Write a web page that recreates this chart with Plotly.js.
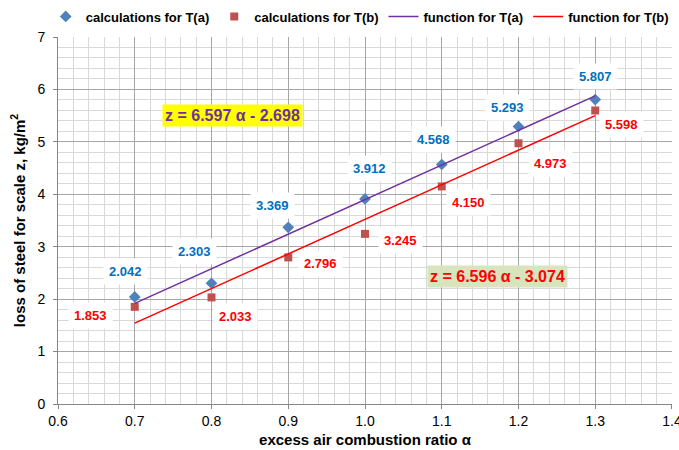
<!DOCTYPE html>
<html>
<head>
<meta charset="utf-8">
<script src="https://cdn.plot.ly/plotly-3.0.1.min.js"></script>
<style>html,body{margin:0;padding:0;background:#fff;}#chart{width:679px;height:450px;}</style>
</head>
<body>
<div id="chart"></div>
<script>
// Data
var alpha = [0.7, 0.8, 0.9, 1.0, 1.1, 1.2, 1.3];
var calcA = [2.042, 2.303, 3.369, 3.912, 4.568, 5.293, 5.807];
var calcB = [1.853, 2.033, 2.796, 3.245, 4.150, 4.973, 5.598];
var fitX = [0.7, 1.3];
var fitA = [1.920, 5.878];   // z = 6.597 α - 2.698
var fitB = [1.543, 5.501];   // z = 6.596 α - 3.074
var xTicks = [0.6, 0.7, 0.8, 0.9, 1.0, 1.1, 1.2, 1.3, 1.4];
var xTickText = ["0.6", "0.7", "0.8", "0.9", "1.0", "1.1", "1.2", "1.3", "1.4"];
var labelsA = ["2.042", "2.303", "3.369", "3.912", "4.568", "5.293", "5.807"];
var labelsB = ["1.853", "2.033", "2.796", "3.245", "4.150", "4.973", "5.598"];
var eqA = "z = 6.597 α - 2.698";
var eqB = "z = 6.596 α - 3.074";

// label pixel offsets (placement)
var offA = [[-9,25],[-17,32],[-16,22],[4,30],[-8,25],[-11,19],[0,23]];
var offB = [[-44,-9],[24,-19],[32,-6],[35,-7],[27,-16],[32,-20],[26,-14]];

var FONT = "Liberation Sans, Arial, sans-serif";

var traces = [
  {x: alpha, y: calcA, type: "scatter", mode: "markers", name: "calculations for T(a)",
   marker: {symbol: "diamond", size: 9, color: "#4F81BD"}},
  {x: alpha, y: calcB, type: "scatter", mode: "markers", name: "calculations for T(b)",
   marker: {symbol: "square", size: 8, color: "#C0504D"}},
  {x: fitX, y: fitA, type: "scatter", mode: "lines", name: "function for T(a)",
   line: {color: "#7030A0", width: 1.5}},
  {x: fitX, y: fitB, type: "scatter", mode: "lines", name: "function for T(b)",
   line: {color: "#FF0000", width: 1.5}}
];

var ann = [];
for (var i = 0; i < alpha.length; i++) {
  ann.push({x: alpha[i], y: calcA[i], xref: "x", yref: "y", text: labelsA[i], showarrow: false,
    xshift: offA[i][0], yshift: offA[i][1], bgcolor: "#FFFFFF", borderpad: 5,
    font: {family: FONT, size: 13, color: "#0070C0", weight: "bold"}});
  ann.push({x: alpha[i], y: calcB[i], xref: "x", yref: "y", text: labelsB[i], showarrow: false,
    xshift: offB[i][0], yshift: offB[i][1], bgcolor: "#FFFFFF", borderpad: 5,
    font: {family: FONT, size: 13, color: "#FF0000", weight: "bold"}});
}
ann.push({x: 0.828, y: 5.51, xref: "x", yref: "y", text: "<b>" + eqA + "</b>", showarrow: false,
  bgcolor: "#FFFF00", borderpad: 2, font: {family: FONT, size: 16, color: "#7030A0"}});
ann.push({x: 1.172, y: 2.44, xref: "x", yref: "y", text: "<b>" + eqB + "</b>", showarrow: false,
  bgcolor: "#D7E4BD", borderpad: 2, font: {family: FONT, size: 16, color: "#FF0000"}});

var layout = {
  width: 679, height: 450,
  margin: {l: 58, r: 7, t: 37, b: 46, autoexpand: false},
  paper_bgcolor: "#FFFFFF", plot_bgcolor: "#FFFFFF",
  font: {family: FONT, size: 14, color: "#000000"},
  showlegend: true,
  legend: {orientation: "h", x: -0.02, xanchor: "left", y: 1.015, yanchor: "bottom",
    font: {family: FONT, size: 13, color: "#000000", weight: "bold"}, itemwidth: 30,
    tracegroupgap: 0, bgcolor: "rgba(0,0,0,0)"},
  xaxis: {range: [0.6, 1.40001], tickmode: "array", tickvals: xTicks, ticktext: xTickText,
    ticklabeloverflow: "allow",
    showgrid: true, gridcolor: "#A6A6A6", gridwidth: 1,
    minor: {dtick: 0.02, tick0: 0.6, showgrid: true, gridcolor: "#D9D9D9", gridwidth: 1},
    showline: true, linecolor: "#868686", linewidth: 1,
    ticks: "outside", ticklen: 4, tickcolor: "#868686",
    zeroline: false, fixedrange: true,
    tickfont: {family: FONT, size: 14, color: "#000000"},
    title: {text: "excess air combustion ratio α", standoff: 6,
      font: {family: FONT, size: 15, color: "#000000", weight: "bold"}}},
  yaxis: {range: [0, 7], dtick: 1, tick0: 0,
    showgrid: true, gridcolor: "#A6A6A6", gridwidth: 1,
    minor: {dtick: 0.2, showgrid: true, gridcolor: "#D9D9D9", gridwidth: 1},
    showline: true, linecolor: "#868686", linewidth: 1,
    ticks: "outside", ticklen: 4, tickcolor: "#868686", ticklabelstandoff: 5,
    zeroline: false, fixedrange: true,
    tickfont: {family: FONT, size: 14, color: "#000000"},
    title: {text: "loss of steel for scale z, kg/m<sup>2</sup>", standoff: 8,
      font: {family: FONT, size: 15, color: "#000000", weight: "bold"}}},
  annotations: ann
};

Plotly.newPlot("chart", traces, layout, {staticPlot: true, displayModeBar: false});
</script>
</body>
</html>
